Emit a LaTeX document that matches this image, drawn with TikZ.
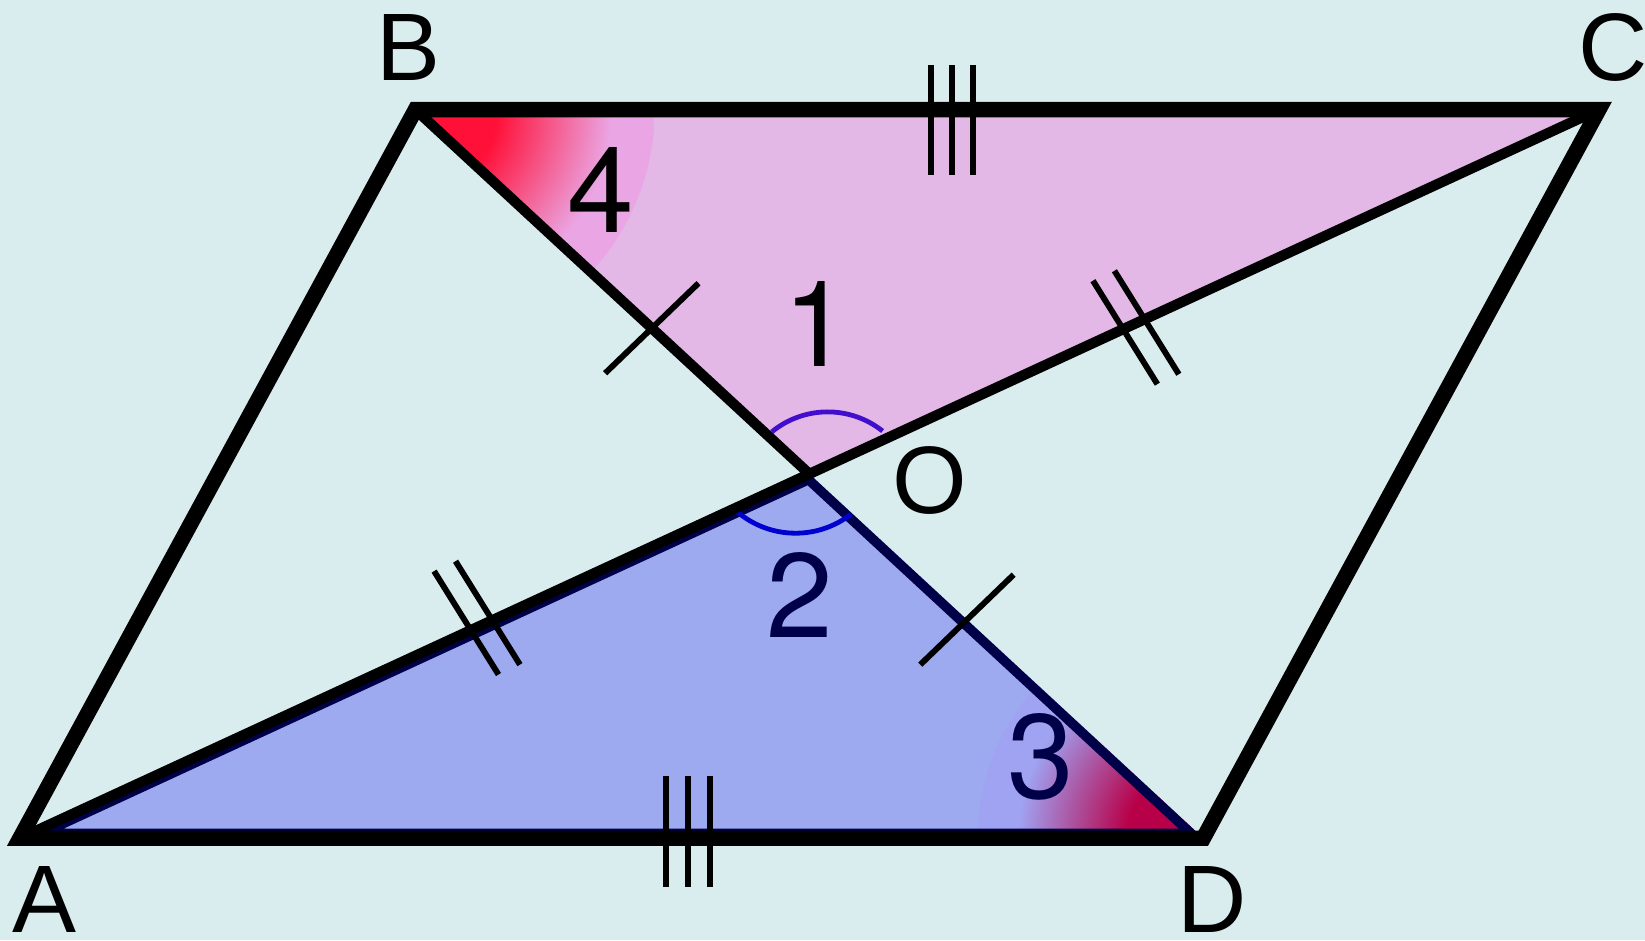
\documentclass[tikz,border=0pt]{standalone}
\usepackage{fontspec}
\setmainfont{Liberation Sans}
\newfontfamily\digitfont{TeX Gyre Heros}
\usepackage{xcolor}
\usetikzlibrary{calc}
\definecolor{bgcyan}{RGB}{218,237,238}
\definecolor{toppink}{RGB}{228,184,230}
\definecolor{botblue}{RGB}{158,170,240}
\definecolor{hotred}{RGB}{255,16,56}
\definecolor{rimpink}{RGB}{234,166,228}
\definecolor{deepred}{RGB}{184,0,72}
\definecolor{rimblue}{RGB}{160,162,242}
\definecolor{navyink}{RGB}{0,0,72}
\definecolor{arcviolet}{RGB}{66,14,206}
\definecolor{arcblue}{RGB}{0,0,208}
\pgfdeclareradialshading{glowB}{\pgfpointorigin}{color(0bp)=(hotred); color(8.5bp)=(hotred); color(20.5bp)=(rimpink); color(25bp)=(rimpink); color(50bp)=(rimpink)}
\pgfdeclareradialshading{glowD}{\pgfpointorigin}{color(0bp)=(deepred); color(8.5bp)=(deepred); color(20.5bp)=(rimblue); color(25bp)=(rimblue); color(50bp)=(rimblue)}

\begin{document}
\begin{tikzpicture}[
  x=0.01cm, y=-0.01cm,
  rim/.style={line width=4.2pt, line join=miter},
  diag/.style={line width=2.8pt},
  tickline/.style={line width=1.6pt},
  anglearc/.style={line width=1.3pt},
  vlabel/.style={inner sep=0pt, font=\fontsize{26}{26}\selectfont},
  nlabel/.style={inner sep=0pt, font=\digitfont\fontsize{32.5}{32.5}\selectfont}
]
\fill[bgcyan] (0,0) rectangle (1568,896);
\useasboundingbox (0,0) rectangle (1568,896);
\coordinate (A) at (19,799);
\coordinate (B) at (396,104.5);
\coordinate (C) at (1524,104.5);
\coordinate (D) at (1147,799);
\coordinate (O) at ($(A)!0.5!(C)$);

\fill[toppink] (B) -- (O) -- (C) -- cycle;
\begin{scope}
  \clip (B) -- (O) -- (C) -- cycle;
  \shade[shading=glowB] (B) circle[radius=2.28cm];
\end{scope}
\fill[botblue] (A) -- (O) -- (D) -- cycle;
\begin{scope}
  \clip (A) -- (O) -- (D) -- cycle;
  \shade[shading=glowD] (D) circle[radius=2.15cm];
  \draw[navyink, line width=5.2pt, line join=round] (A) -- (O) -- (D) -- cycle;
\end{scope}

\draw[anglearc, arcviolet] (735.6,411.7) arc[start angle=129.4, end angle=51.5, radius=0.84cm];
\draw[anglearc, arcblue] (699,484.5) arc[start angle=226.4, end angle=308, radius=0.86cm];

\draw[diag] (B) -- (O);
\draw[diag] (A) -- (C);
\draw[rim] (A) -- (B) -- (C) -- (D) -- cycle;

\foreach \t in {0.3,0.7}
  \draw[tickline] ($(B)!\t!(D)+(-44.5,42.9)$) -- ($(B)!\t!(D)+(44.5,-42.9)$);
\foreach \t/\dy in {0.2827/-9,0.2963/-9,0.7000/4,0.7136/4}
  \draw[tickline] ($(A)!\t!(C)+(-30.7,-49.3+\dy)$) -- ($(A)!\t!(C)+(30.7,49.3+\dy)$);
\foreach \x in {887.1,907.7,927.5}
  \draw[tickline] (\x,62) -- (\x,167);
\foreach \x in {635,656,677}
  \draw[tickline] (\x,740) -- (\x,845);

\node[vlabel] (labA) at ($(A)+(23,58)$) {A};
\node[vlabel] (labB) at ($(B)+(-7,-59.5)$) {B};
\node[vlabel] (labC) at ($(C)+(14,-59.5)$) {C};
\node[vlabel] (labD) at ($(D)+(8,58)$) {D};
\node[vlabel] (labO) at ($(O)+(114.5,6)$) {O};
\node[nlabel] (ang4) at (573,181) {4};
\node[nlabel] (ang1) at (779,309) {1};
\node[nlabel, text=navyink] (ang2) at (762,567) {2};
\node[nlabel, text=navyink] (ang3) at (992,721) {3};
\end{tikzpicture}
\end{document}
